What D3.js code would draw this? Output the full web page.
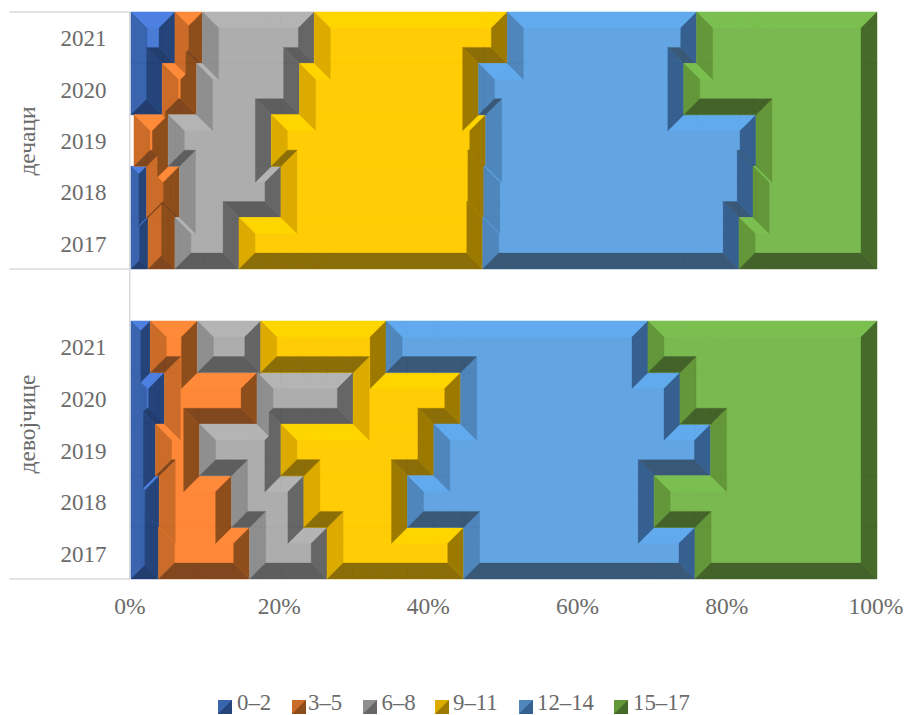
<!DOCTYPE html>
<html>
<head>
<meta charset="utf-8">
<script src="https://cdn.jsdelivr.net/npm/d3@7/dist/d3.min.js"></script>
<style>
  html, body { margin: 0; padding: 0; background: #fff; }
  svg { display: block; }
  text { font-family: "Liberation Serif", serif; fill: #6b6b6b; }
</style>
</head>
<body>
<div id="chart"></div>
<script>
// Share of each age band per year, in percent. Years run top to bottom.
const years = ["2021", "2020", "2019", "2018", "2017"];
const ageBands = ["0–2", "3–5", "6–8", "9–11", "12–14", "15–17"];
const groupNames = ["дечаци", "девојчице"];
const axisTicks = [0, 0.2, 0.4, 0.6, 0.8, 1];

const boys02 = [5.9, 4.2, 0.4, 2.1, 2.3];
const boys35 = [3.7, 4.6, 4.6, 4.4, 3.6];
const boys68 = [15.0, 13.8, 13.8, 13.6, 8.6];
const boys911 = [25.9, 24.0, 28.7, 27.2, 32.7];
const boys1214 = [25.4, 27.5, 36.2, 36.1, 34.4];
const boys1517 = [24.2, 25.9, 16.2, 16.6, 18.5];

const girls02 = [2.6, 4.5, 3.3, 3.8, 3.7];
const girls35 = [6.3, 12.4, 5.9, 9.7, 12.2];
const girls68 = [8.5, 12.9, 10.9, 9.7, 10.4];
const girls911 = [16.8, 14.4, 20.5, 13.9, 18.3];
const girls1214 = [35.1, 29.4, 37.1, 33.1, 31.0];
const girls1517 = [30.7, 26.4, 22.3, 29.9, 24.4];

const boysSeries = [boys02, boys35, boys68, boys911, boys1214, boys1517];
const girlsSeries = [girls02, girls35, girls68, girls911, girls1214, girls1517];

// Face shades of each band: flat centre plus the four bevel directions.
const shades = [
  { centre: "#4a7cd6", top: "#4d80e0", left: "#3a64ad", right: "#25447a", bottom: "#223d6e" },
  { centre: "#ff8838", top: "#ff8a3a", left: "#cc6c2a", right: "#8e4e1c", bottom: "#81471f" },
  { centre: "#adadad", top: "#b4b4b4", left: "#8f8f8f", right: "#666666", bottom: "#5e5e5e" },
  { centre: "#ffcc05", top: "#ffd500", left: "#ddab00", right: "#9c7900", bottom: "#8c6e08" },
  { centre: "#62a5e2", top: "#62aaee", left: "#4f86bc", right: "#366090", bottom: "#3a5877" },
  { centre: "#7ab850", top: "#7bbf50", left: "#63973a", right: "#466a2a", bottom: "#44632a" }
];

const width = 906, height = 715;
const bevel = 16;
const x = d3.scaleLinear().domain([0, 1]).range([131, 877]);
const bandTop = d3.scaleBand().domain(years).range([12, 269]);
const bandBottom = d3.scaleBand().domain(years).range([321, 579]);

const svg = d3.select("#chart").append("svg")
  .attr("width", width).attr("height", height);

// Half-plane clipping of a convex polygon: keeps a*x + b*y <= c.
function clip(poly, [a, b, c]) {
  const out = [];
  for (let i = 0; i < poly.length; i++) {
    const p = poly[i], q = poly[(i + 1) % poly.length];
    const fp = a * p[0] + b * p[1] - c, fq = a * q[0] + b * q[1] - c;
    if (fp <= 1e-9) out.push(p);
    if ((fp < -1e-9 && fq > 1e-9) || (fp > 1e-9 && fq < -1e-9)) {
      const t = fp / (fp - fq);
      out.push([p[0] + t * (q[0] - p[0]), p[1] + t * (q[1] - p[1])]);
    }
  }
  return out;
}
const negate = ([a, b, c]) => [-a, -b, -c];
const clipAll = (poly, planes) => planes.reduce((acc, h) => acc.length ? clip(acc, h) : acc, poly);

// Outline of a stacked column of rows, walked clockwise on screen.
function outline(rows) {
  const pts = [];
  rows.forEach(r => { pts.push([r.r, r.y0], [r.r, r.y1]); });
  rows.slice().reverse().forEach(r => { pts.push([r.l, r.y1], [r.l, r.y0]); });
  const clean = pts.filter((p, i) => {
    const q = pts[(i + pts.length - 1) % pts.length];
    return Math.hypot(p[0] - q[0], p[1] - q[1]) > 1e-6;
  });
  return clean.filter((p, i) => {
    const a = clean[(i + clean.length - 1) % clean.length], b = clean[(i + 1) % clean.length];
    return Math.abs((p[0] - a[0]) * (b[1] - p[1]) - (p[1] - a[1]) * (b[0] - p[0])) > 1e-6;
  });
}

// One sloped facet per outline edge, with mitred ends at each corner.
function facets(rows, depth) {
  const v = outline(rows);
  const n = v.length;
  const edges = v.map((p, i) => {
    const q = v[(i + 1) % n];
    const L = Math.hypot(q[0] - p[0], q[1] - p[1]);
    const d = [(q[0] - p[0]) / L, (q[1] - p[1]) / L];
    return { p, L, d, n: [-d[1], d[0]] };
  });
  const dot = (a, b) => a[0] * b[0] + a[1] * b[1];
  edges.forEach((e, i) => {
    const prev = edges[(i + n - 1) % n], next = edges[(i + 1) % n];
    const a = dot(prev.n, e.d), b = -dot(next.n, e.d);
    const vn = dot(e.n, e.p), vd = dot(e.d, e.p);
    e.k = vn;
    e.planes = [
      [-e.n[0], -e.n[1], -vn],
      [e.n[0], e.n[1], vn + depth],
      [a * e.n[0] - e.d[0], a * e.n[1] - e.d[1], a * vn - vd],
      [e.d[0] + b * e.n[0], e.d[1] + b * e.n[1], e.L + vd + b * vn]
    ];
    e.face = e.n[1] > 0.5 ? "top" : e.n[1] < -0.5 ? "bottom" : e.n[0] > 0.5 ? "left" : "right";
  });
  return edges;
}

const polyArea = poly => d3.polygonArea(poly);
const lineGen = d3.line().curve(d3.curveLinearClosed);

// Resolves overlapping facets by keeping the lower surface at each point.
function visiblePieces(edge, others, rows, box) {
  let pieces = [clipAll(box, edge.planes)].filter(p => p.length > 2);
  others.forEach(o => {
    const h = [edge.n[0] - o.n[0], edge.n[1] - o.n[1], edge.k - o.k];
    const next = [];
    pieces.forEach(c => {
      const inside = clip(c, h);
      if (inside.length > 2) next.push(inside);
      let rest = clip(c, negate(h));
      o.planes.forEach(plane => {
        if (rest.length < 3) return;
        const part = clip(rest, negate(plane));
        if (part.length > 2) next.push(part);
        rest = clip(rest, plane);
      });
    });
    pieces = next.filter(p => Math.abs(polyArea(p)) > 0.005);
  });
  const clipped = [];
  rows.forEach(r => {
    const rect = [[1, 0, r.r], [-1, 0, -r.l], [0, 1, r.y1], [0, -1, -r.y0]];
    pieces.forEach(c => {
      const part = clipAll(c, rect);
      if (part.length > 2 && Math.abs(polyArea(part)) > 0.005) {
        clipped.push(polyArea(part) < 0 ? part.slice().reverse() : part);
      }
    });
  });
  return clipped;
}

// Draws one merged band shape: flat fill, then its four bevel directions.
function drawShape(parent, rows, palette, depth) {
  const centre = rows.map(r => lineGen([[r.l, r.y0], [r.r, r.y0], [r.r, r.y1], [r.l, r.y1]])).join("");
  parent.append("path").attr("d", centre).attr("fill", palette.centre)
    .attr("stroke", palette.centre).attr("stroke-width", 0.3);
  const edges = facets(rows, depth);
  const xs = rows.flatMap(r => [r.l, r.r]), ys = rows.flatMap(r => [r.y0, r.y1]);
  const pad = depth * 3;
  const box = [
    [d3.min(xs) - pad, d3.min(ys) - pad], [d3.max(xs) + pad, d3.min(ys) - pad],
    [d3.max(xs) + pad, d3.max(ys) + pad], [d3.min(xs) - pad, d3.max(ys) + pad]
  ];
  const byFace = { top: [], left: [], bottom: [], right: [] };
  edges.forEach(e => {
    const others = edges.filter(o => o !== e);
    byFace[e.face].push(...visiblePieces(e, others, rows, box));
  });
  Object.keys(byFace).forEach(face => {
    if (!byFace[face].length) return;
    parent.append("path")
      .attr("d", byFace[face].map(p => lineGen(p)).join(""))
      .attr("fill", palette[face])
      .attr("stroke", palette[face]).attr("stroke-width", 0.3);
  });
}

// Stacks one group and merges each band's neighbouring rows into shapes.
function drawGroup(seriesList, band) {
  const table = years.map((year, i) => {
    const row = { year };
    ageBands.forEach((name, s) => { row[name] = seriesList[s][i]; });
    return row;
  });
  const stacked = d3.stack().keys(ageBands).offset(d3.stackOffsetExpand)(table);
  const layer = svg.append("g");
  stacked.forEach((series, s) => {
    let current = [];
    const shapes = [current];
    series.forEach(seg => {
      const row = {
        l: x(seg[0]), r: x(seg[1]),
        y0: band(seg.data.year), y1: band(seg.data.year) + band.bandwidth()
      };
      const prev = current[current.length - 1];
      // Slivers are too thin to carry a bevel and break the shape in two.
      if (row.r - row.l < 4) { current = []; shapes.push(current); return; }
      if (prev && (row.l >= prev.r || row.r <= prev.l)) { current = []; shapes.push(current); }
      current.push(row);
    });
    shapes.filter(rows => rows.length).forEach(rows => drawShape(layer, rows, shades[s], bevel));
  });
}

// Category frame: hairlines and the shared vertical axis.
const frame = svg.append("g").attr("stroke", "#d9d9d9").attr("stroke-width", 1.5).attr("fill", "none");
[12, 269, 579].forEach(y => {
  frame.append("line").attr("x1", 9.5).attr("x2", 130).attr("y1", y).attr("y2", y);
});
frame.append("line").attr("x1", 129.8).attr("x2", 129.8).attr("y1", 12).attr("y2", 579);

drawGroup(boysSeries, bandTop);
drawGroup(girlsSeries, bandBottom);

// Year labels beside each group.
[bandTop, bandBottom].forEach(band => {
  svg.append("g").selectAll("text").data(years).join("text")
    .attr("x", 106.5).attr("y", d => band(d) + band.bandwidth() / 2 + 8.5)
    .attr("text-anchor", "end").attr("font-size", 23)
    .text(d => d);
});

// Rotated group names.
[[groupNames[0], 141], [groupNames[1], 424]].forEach(([name, cy]) => {
  svg.append("text")
    .attr("transform", `translate(35,${cy}) rotate(-90)`)
    .attr("text-anchor", "middle").attr("font-size", 23.5)
    .text(name);
});

// Percentage axis, tick lines removed.
const axis = svg.append("g").attr("transform", "translate(0,614)")
  .call(d3.axisBottom(x).tickValues(axisTicks).tickFormat(d3.format(".0%")).tickSize(0).tickPadding(0));
axis.select(".domain").remove();
axis.selectAll("text")
  .attr("y", 0).attr("dy", 0)
  .attr("dx", -1.5)
  .style("font-family", '"Liberation Serif", serif')
  .attr("font-size", 23.5).attr("fill", "#777777");

// Legend: square keys split along the diagonal, followed by their labels.
const legendKeyX = [218, 292, 363, 435, 519, 614];
const legendTextX = [237, 308, 381.5, 453, 537, 633];
const keySize = 14, keyTop = 700;
const legend = svg.append("g");
ageBands.forEach((name, s) => {
  const kx = legendKeyX[s];
  legend.append("rect").attr("x", kx).attr("y", keyTop)
    .attr("width", keySize).attr("height", keySize).attr("fill", shades[s].left);
  legend.append("path")
    .attr("d", lineGen([[kx + keySize, keyTop], [kx + keySize, keyTop + keySize], [kx, keyTop + keySize]]))
    .attr("fill", shades[s].right);
  legend.append("text").attr("x", legendTextX[s]).attr("y", 710)
    .attr("font-size", 22.8).text(name);
});
</script>
</body>
</html>
